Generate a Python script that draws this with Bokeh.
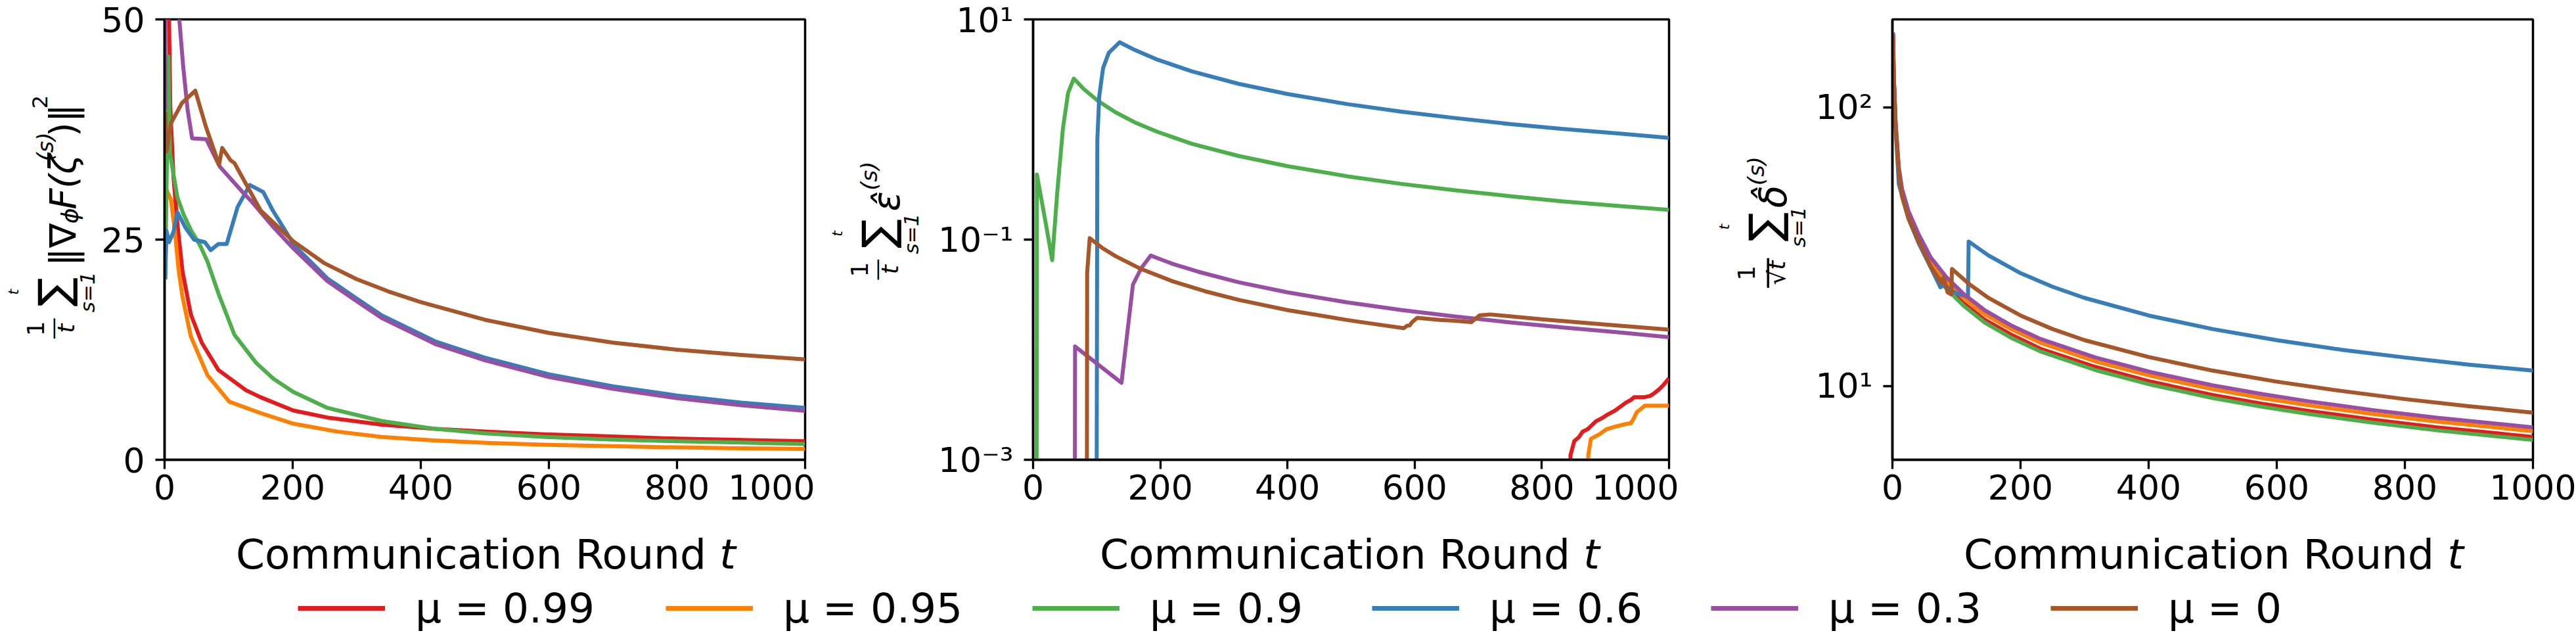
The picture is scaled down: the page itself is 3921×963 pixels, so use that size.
from math import pi

from bokeh.core.properties import value
from bokeh.embed import file_html
from bokeh.layouts import column, row
from bokeh.models import CustomJSTickFormatter, FixedTicker, Legend, LegendItem, Range1d
from bokeh.plotting import figure
from bokeh.resources import INLINE

FONT = "DejaVu Sans"

# ---------------------------------------------------------------- series
MU_LABELS = ["μ = 0.99", "μ = 0.95", "μ = 0.9", "μ = 0.6", "μ = 0.3", "μ = 0"]
COLORS = ["#e41a1c", "#ff7f00", "#4daf4a", "#377eb8", "#984ea3", "#a65628"]
X_TICKS = [0, 200, 400, 600, 800, 1000]

# running average of the squared gradient norm
grad_t_099 = [1, 7, 9, 14, 20, 28, 41, 58, 84, 127, 150, 201, 254, 339, 424, 500, 594, 700, 800, 900, 1000]
grad_099 = [120, 50, 40, 32, 26.8, 21.4, 16.5, 13.3, 10.2, 7.9, 7.1, 5.6, 4.8, 4.0, 3.5, 3.2, 2.9, 2.65, 2.4, 2.25, 2.1]
grad_t_095 = [1, 10, 16, 22, 28, 41, 67, 101, 150, 201, 270, 339, 420, 509, 600, 764, 880, 1000]
grad_095 = [31, 29.5, 26, 21.5, 18.5, 14.0, 9.6, 6.6, 5.3, 4.1, 3.2, 2.6, 2.2, 1.9, 1.7, 1.45, 1.33, 1.23]
grad_t_09 = [1, 6, 8.5, 20, 30, 41, 55, 67, 84, 109, 143, 170, 201, 254, 339, 424, 500, 594, 700, 800, 900, 1000]
grad_09 = [20.5, 45.8, 34.8, 29.8, 27.8, 26.1, 24.4, 22.5, 18.9, 14.2, 11.0, 9.2, 7.7, 5.9, 4.4, 3.5, 3.0, 2.6,
           2.3, 2.1, 1.95, 1.8]
grad_t_06 = [1, 3, 7, 14, 20, 33, 46, 63, 72, 84, 97, 114, 133, 154, 169, 203, 254, 300, 339, 424, 500, 600,
             700, 800, 900, 1000]
grad_06 = [20.5, 26, 24.7, 25.9, 28.1, 26.3, 25.0, 24.7, 23.8, 24.5, 24.5, 28.7, 31.2, 30.4, 28.3, 24.3, 20.6,
           18.3, 16.4, 13.4, 11.6, 9.7, 8.35, 7.3, 6.5, 5.9]
grad_t_03 = [1, 2, 10, 23, 29, 36, 43, 65, 86, 123, 135, 170, 201, 254, 300, 339, 424, 500, 600, 700, 800, 900, 1000]
grad_03 = [39.7, 90, 70, 50, 44.7, 39.7, 36.5, 36.4, 33.3, 30.3, 29.4, 26.4, 24.0, 20.3, 18.0, 16.1, 13.1,
           11.3, 9.4, 8.05, 7.0, 6.2, 5.55]
grad_t_0 = [1, 3, 10, 27, 48, 65, 85, 90, 103, 109, 150, 201, 250, 300, 350, 400, 500, 600, 700, 800, 900, 1000]
grad_0 = [39.5, 35, 38.2, 40.5, 41.9, 37.7, 33.5, 35.4, 34.0, 33.7, 28.3, 24.8, 22.3, 20.5, 19.1, 17.9, 15.9,
          14.4, 13.3, 12.5, 11.9, 11.4]

# running average of epsilon-hat (1e-6 marks values under the axis floor)
eps_t_099 = [1, 843, 845, 851, 858, 864, 872, 885, 895, 902, 915, 932, 940, 945, 960, 970, 976, 983, 990, 1000]
eps_099 = [1e-6, 1e-6, 0.0011, 0.00148, 0.0016, 0.0018, 0.0019, 0.00224, 0.0024, 0.00255,
           0.0028, 0.0033, 0.0035, 0.0037, 0.0037, 0.0038, 0.0040, 0.0043, 0.0047, 0.0055]
eps_t_095 = [1, 871, 873, 877, 890, 902, 915, 930, 940, 945, 949, 962, 980, 1000]
eps_095 = [1e-6, 1e-6, 0.0011, 0.00155, 0.0017, 0.0019, 0.0020, 0.0021, 0.00215, 0.0024, 0.0027, 0.0031, 0.0031, 0.0031]
eps_t_09 = [1, 5, 6, 10, 20, 30, 38, 47, 55, 64, 80, 102, 130, 160, 196, 250, 323, 400, 494, 580, 664, 750,
            834, 920, 1000]
eps_09 = [1e-6, 1e-6, 0.39, 0.29, 0.14, 0.065, 0.27, 1.03, 2.15, 2.9, 2.32, 1.82, 1.43, 1.16, 0.95, 0.74,
          0.575, 0.465, 0.376, 0.32, 0.28, 0.248, 0.222, 0.202, 0.186]
eps_t_06 = [1, 99, 101, 104, 110, 119, 136, 160, 196, 250, 323, 400, 494, 580, 664, 750, 834, 920, 1000]
eps_06 = [1e-6, 1e-6, 0.8, 2.0, 3.6, 4.97, 6.2, 5.27, 4.3, 3.37, 2.6, 2.1, 1.7, 1.45, 1.27, 1.12, 1.01, 0.92, 0.84]
eps_t_03 = [1, 65, 66, 139, 148, 157, 170, 185, 220, 260, 323, 400, 494, 580, 664, 750, 834, 920, 1000]
eps_03 = [1e-6, 1e-6, 0.0107, 0.0050, 0.014, 0.039, 0.055, 0.0716, 0.060, 0.051, 0.041, 0.0332, 0.0269,
          0.0229, 0.020, 0.0177, 0.0159, 0.0144, 0.013]
eps_t_0 = [1, 84, 85, 89, 110, 130, 170, 220, 270, 323, 400, 494, 540, 583, 588, 592, 596, 604, 640, 660,
           689, 695, 702, 719, 800, 900, 1000]
eps_0 = [1e-6, 1e-6, 0.05, 0.103, 0.083, 0.0705, 0.054, 0.0417, 0.034, 0.0284, 0.0229, 0.0186, 0.0170,
         0.0157, 0.0165, 0.0166, 0.0178, 0.0195, 0.0186, 0.0184, 0.0178, 0.019, 0.0205, 0.0209, 0.0189,
         0.0169, 0.0152]

# delta-hat sum scaled by 1/sqrt(t)
dlt_t = [1, 2, 5, 10, 15, 25, 41, 60, 84, 110, 144, 185, 231, 317, 404, 500, 577, 650, 750, 850, 1000]
dlt_099 = [182, 131, 86, 59, 49, 40.5, 33.4, 27.1, 22.9, 19.9, 17.3, 15.3, 13.6, 11.7, 10.35, 9.28, 8.63,
           8.13, 7.57, 7.1, 6.56]
dlt_095 = [184, 132, 87, 60, 50, 41.5, 34.2, 28.0, 23.8, 20.8, 18.1, 16.0, 14.3, 12.25, 10.86, 9.73, 9.05,
           8.52, 7.93, 7.45, 6.88]
dlt_09 = [180, 130, 85, 58, 48, 40, 33, 26.6, 22.4, 19.5, 16.9, 14.9, 13.3, 11.4, 10.1, 9.05, 8.42, 7.93,
          7.38, 6.93, 6.4]
dlt_03 = [186, 133, 88, 61, 51, 42.5, 35.0, 28.9, 24.6, 21.5, 18.7, 16.5, 14.75, 12.65, 11.2, 10.05, 9.35,
          8.8, 8.19, 7.69, 7.1]
dlt_t_06 = [1, 2, 5, 10, 12, 25, 41, 60, 75, 78, 100, 118, 119, 150, 200, 250, 300, 400, 500, 600, 700, 800,
            900, 1000]
dlt_06 = [180, 128, 84, 53, 51, 40, 32.5, 26.6, 22.6, 23.0, 21.5, 20.9, 33.0, 29.4, 25.4, 22.7, 20.7, 17.9,
          16.0, 14.6, 13.5, 12.65, 11.93, 11.35]
dlt_t_0 = [1, 2, 5, 10, 15, 25, 41, 60, 76, 80, 86, 92, 93, 120, 150, 200, 250, 300, 400, 500, 600, 700, 800,
           900, 1000]
dlt_0 = [182, 130, 86, 58, 48, 40, 33, 26.8, 23.4, 24.5, 21.7, 21.3, 26.3, 23.2, 20.7, 17.9, 16.0, 14.6,
         12.7, 11.35, 10.36, 9.6, 8.97, 8.46, 8.02]

GRAD = [(grad_t_099, grad_099), (grad_t_095, grad_095), (grad_t_09, grad_09),
        (grad_t_06, grad_06), (grad_t_03, grad_03), (grad_t_0, grad_0)]
EPS = [(eps_t_099, eps_099), (eps_t_095, eps_095), (eps_t_09, eps_09),
       (eps_t_06, eps_06), (eps_t_03, eps_03), (eps_t_0, eps_0)]
DLT = [(dlt_t, dlt_099), (dlt_t, dlt_095), (dlt_t, dlt_09),
       (dlt_t_06, dlt_06), (dlt_t, dlt_03), (dlt_t_0, dlt_0)]

# ---------------------------------------------------------------- geometry (page pixels)
PAGE_W, PAGE_H = 3921, 963
TOP, FRAME_H, FRAME_W = 29, 670, 975
ROW_H = 785
FRAME_BOTTOM = TOP + FRAME_H
LINE_W = 6
TICK_PX = "52px"
LABEL_PX = 63

POW_FMT = CustomJSTickFormatter(code="""
const sup = {"-": "\u207b", "0": "\u2070", "1": "\u00b9", "2": "\u00b2", "3": "\u00b3",
             "4": "\u2074", "5": "\u2075", "6": "\u2076", "7": "\u2077", "8": "\u2078", "9": "\u2079"};
const e = Math.round(Math.log10(tick));
return "10" + String(e).split("").map(c => sup[c]).join("");
""")


class TextCanvas:
    """A bare canvas whose data coordinates are page pixels."""

    def __init__(self, x0, y0, width, height):
        self.bottom = y0 + height
        f = figure(width=width, height=height, min_border=0,
                   x_range=Range1d(x0, x0 + width), y_range=Range1d(0, height),
                   x_axis_location=None, y_axis_location=None,
                   output_backend="svg", toolbar_location=None)
        f.grid.visible = False
        f.outline_line_color = None
        f.background_fill_color = "white"
        f.border_fill_color = "white"
        self.fig = f

    def put(self, text, px, py, size, style="normal", align="center", angle=0.0):
        self.fig.text(x=[px], y=[self.bottom - py], text=[text], angle=angle,
                      text_font=value(FONT), text_font_size=value(f"{size}px"),
                      text_font_style=value(style), text_align=value(align),
                      text_baseline=value("alphabetic"), text_color="black")


# vertical math labels: each piece is (text, baseline x, start y, size, style)
GRAD_MAIN = [("\u2016\u2207", 95, 440, 56, "normal"),
             ("\u03d5", 106, 364, 36, "italic"),
             ("F(\u03b6", 95, 339, 56, "italic"),
             ("(s)", 68, 253, 34, "italic"),
             (")\u2016", 95, 209, 56, "normal"),
             ("2", 60, 159, 32, "normal")]
EPS_MAIN = [("\u03b5\u0302", 95, 342, 56, "italic"), ("(s)", 68, 305, 34, "italic")]
DLT_MAIN = [("\u03b4\u0302", 95, 336, 56, "italic"), ("(s)", 68, 296, 34, "italic")]


def y_label(c, dx, frac_y, sig_y, main, den="t", bar_px=34):
    up = pi / 2
    c.put("1", 53 + dx, frac_y, 36, angle=up)
    c.put("\u2014", 70 + 0.27 * bar_px + dx, frac_y, bar_px, angle=up)
    c.put(den, 100 + dx, frac_y, 36, style="italic", angle=up)
    c.put("\u2211", 82 + dx, sig_y, 66, angle=up)
    c.put("t", 20 + dx, sig_y, 22, style="italic", angle=up)
    c.put("s=1", 132 + dx, sig_y, 31, style="italic", angle=up)
    for text, bx, start, size, style in main:
        c.put(text, bx + dx, start, size, style=style, align="left", angle=up)


def panel(width, left, y_type, y_start, y_end, y_ticks, series):
    p = figure(width=width, height=ROW_H, min_border_left=left,
               min_border_right=width - left - FRAME_W, min_border_top=TOP,
               min_border_bottom=ROW_H - FRAME_BOTTOM,
               x_range=Range1d(0, 1000), y_range=Range1d(y_start, y_end),
               y_axis_type=y_type, output_backend="svg", toolbar_location=None)
    p.grid.visible = False
    p.background_fill_color = "white"
    p.border_fill_color = "white"
    p.outline_line_color = "black"
    p.outline_line_width = 3.5
    p.outline_line_alpha = 1.0
    for ax in (p.xaxis[0], p.yaxis[0]):
        ax.axis_line_width = 3.5
        ax.axis_line_color = "black"
        ax.major_tick_line_width = 3.3
        ax.major_tick_line_color = "black"
        ax.major_tick_out = 14
        ax.major_tick_in = 0
        ax.minor_tick_out = 0
        ax.minor_tick_in = 0
        ax.major_label_text_font = FONT
        ax.major_label_text_font_size = TICK_PX
        ax.major_label_text_color = "black"
    p.xaxis.ticker = FixedTicker(ticks=X_TICKS)
    p.xaxis.major_label_standoff = 8
    p.yaxis.ticker = FixedTicker(ticks=y_ticks)
    p.yaxis.major_label_standoff = 16
    if y_type == "log":
        p.yaxis.formatter = POW_FMT
    for (ts, vs), color in zip(series, COLORS):
        p.line(ts, vs, line_color=color, line_width=LINE_W, line_join="round")
    return p


# ---------------------------------------------------------------- top row
yl1 = TextCanvas(0, 0, 150, ROW_H)
p1 = panel(1090, 100, "linear", 0, 50, [0, 25, 50], GRAD)
yl2 = TextCanvas(1240, 0, 185, ROW_H)
p2 = panel(1130, 140, "log", 1e-3, 10, [1e-3, 1e-1, 10], EPS)
yl3 = TextCanvas(2555, 0, 205, ROW_H)
p3 = panel(1161, 120, "log", 5.43, 207, [10, 100], DLT)

y_label(yl1, 0, 551, 486, GRAD_MAIN)
y_label(yl2, 1254, 446, 382, EPS_MAIN)
y_label(yl3, 2604, 452, 370, DLT_MAIN, den="\u221at", bar_px=50)

# ---------------------------------------------------------------- x labels and legend strip
strip = TextCanvas(0, ROW_H, PAGE_W, PAGE_H - ROW_H)
for frame_left in (250, 1565, 2880):
    mid = frame_left + FRAME_W / 2
    strip.put("Communication Round", mid + 337, 843, LABEL_PX, align="right")
    strip.put("t", mid + 382, 843, LABEL_PX, style="italic", align="right")

LEGEND_X = [453, 1013, 1571, 2088, 2604, 3121]
nan = float("nan")
for label, color, lx in zip(MU_LABELS, COLORS, LEGEND_X):
    r = strip.fig.line(x=[nan], y=[nan], line_color=color, line_width=7)
    strip.fig.add_layout(Legend(items=[LegendItem(label=label, renderers=[r])], location=(lx, 1),
                                orientation="horizontal", glyph_width=133, glyph_height=74,
                                label_height=74, label_standoff=46, padding=0, margin=0, spacing=0,
                                border_line_color=None, background_fill_alpha=0,
                                label_text_font=FONT, label_text_font_size=f"{LABEL_PX}px",
                                label_text_color="black"))

layout = column(row(yl1.fig, p1, yl2.fig, p2, yl3.fig, p3), strip.fig)
open("out.html", "w").write(file_html(layout, INLINE))
